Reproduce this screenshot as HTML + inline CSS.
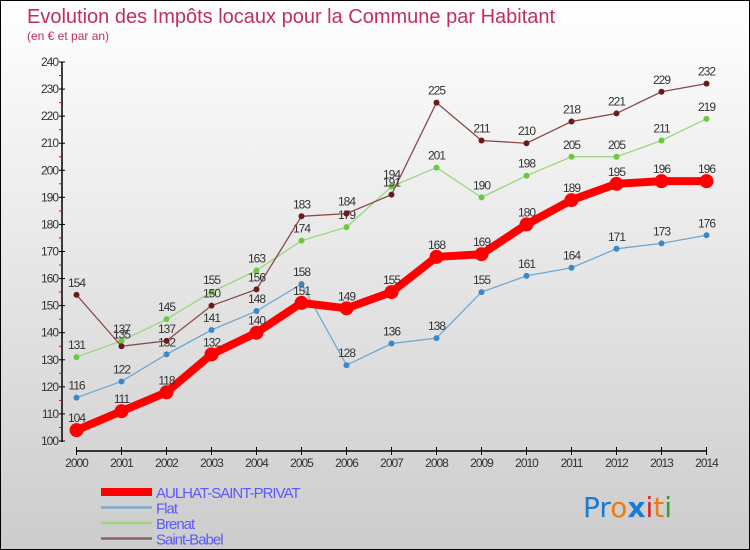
<!DOCTYPE html>
<html><head><meta charset="utf-8"><style>
body{margin:0}
#c{width:750px;height:550px;position:relative;box-sizing:border-box;border:1px solid #000;background:linear-gradient(#fff,#ccc);font-family:"Liberation Sans",sans-serif;overflow:hidden}
</style></head><body>
<div id="c">
<svg id="s" width="750" height="550" style="position:absolute;left:0;top:0">
<text x="26" y="22" font-size="20" fill="#c0305a">Evolution des Impôts locaux pour la Commune par Habitant</text>
<text x="26" y="39" font-size="12" fill="#c0305a">(en € et par an)</text>
<g id="axes"></g><g id="series"></g><g id="legend"></g>
<text x="582" y="516" font-size="28" font-family="DejaVu Sans, sans-serif"><tspan fill="#1a7ad4">Pr</tspan><tspan fill="#f07a10">o</tspan><tspan fill="#1a7ad4" font-weight="bold">x</tspan><tspan fill="#e02020">i</tspan><tspan fill="#f07a10">t</tspan><tspan fill="#30a030">i</tspan></text>
</svg>
</div>
<script>
const years=[2000,2001,2002,2003,2004,2005,2006,2007,2008,2009,2010,2011,2012,2013,2014];
const yTicks=[100,110,120,130,140,150,160,170,180,190,200,210,220,230,240];
const aulhat=[104,111,118,132,140,151,149,155,168,169,180,189,195,196,196];
const flat=[116,122,132,141,148,158,128,136,138,155,161,164,171,173,176];
const brenat=[131,137,145,155,163,174,179,194,201,190,198,205,205,211,219];
const babel=[154,135,137,150,156,183,184,191,225,211,210,218,221,229,232];
const NS="http://www.w3.org/2000/svg";
const X=i=>75.5+i*(705.5-75.5)/14;
const Y=v=>440-(v-100)*(440-61)/140;
function mk(t,a,p){const e=document.createElementNS(NS,t);for(const k in a)e.setAttribute(k,a[k]);(p||document.getElementById('series')).appendChild(e);return e;}
const ax=document.getElementById('axes');
let e=mk('line',{x1:61,y1:61,x2:61,y2:441,stroke:'#000','stroke-width':1.5},ax);

e=mk('line',{x1:75,y1:450,x2:706,y2:450,stroke:'#000','stroke-width':1.5},ax);

yTicks.forEach(v=>{mk('line',{x1:58,x2:64,y1:Y(v),y2:Y(v),stroke:'#000'},ax);
if(v<240)mk('line',{x1:58,x2:61,y1:Y(v+5),y2:Y(v+5),stroke:'#e00'},ax);
const t=mk('text',{x:57,y:Y(v)+4,'font-size':12,fill:'#333','text-anchor':'end','letter-spacing':'-1'},ax);t.textContent=v;
});
years.forEach((y,i)=>{mk('line',{x1:X(i),x2:X(i),y1:446,y2:454,stroke:'#000'},ax);
const t=mk('text',{x:X(i),y:466,'font-size':12,fill:'#333','text-anchor':'middle','letter-spacing':'-1'},ax);t.textContent=y;
});
function series(d,col,dot,w,r,name){
const p=mk('polyline',{points:d.map((v,i)=>X(i)+','+Y(v)).join(' '),fill:'none',stroke:col,'stroke-width':w});

d.forEach((v,i)=>{const c=mk('circle',{cx:X(i),cy:Y(v),r:r,fill:dot});

const t=mk('text',{x:X(i),y:Y(v)-8,'font-size':12,fill:'#333','text-anchor':'middle','letter-spacing':'-1'});t.textContent=v;
});}
series(flat,'#6fa8d0','#3a88c8',1.3,3,'flat');
series(brenat,'#9ad87a','#6cc840',1.3,3,'brenat');
series(babel,'#8a4a4a','#6a1a1a',1.3,3,'saint-babel');
series(aulhat,'#f00','#f00',8,7,'aulhat');
const lg=document.getElementById('legend');
[['AULHAT-SAINT-PRIVAT','#f00',8],['Flat','#7aaad0',2.5],['Brenat','#9ad87a',2.5],['Saint-Babel','#8a6060',2.5]].forEach((l,i)=>{
const y=491+i*15.5;
const ln=mk('line',{x1:100,x2:151,y1:y,y2:y,stroke:l[1],'stroke-width':l[2]},lg);

const t=mk('text',{x:155,y:y+6,'font-size':15,fill:'#5a5aff','letter-spacing':'-1'},lg);t.textContent=l[0];
});
</script>
</body></html>
